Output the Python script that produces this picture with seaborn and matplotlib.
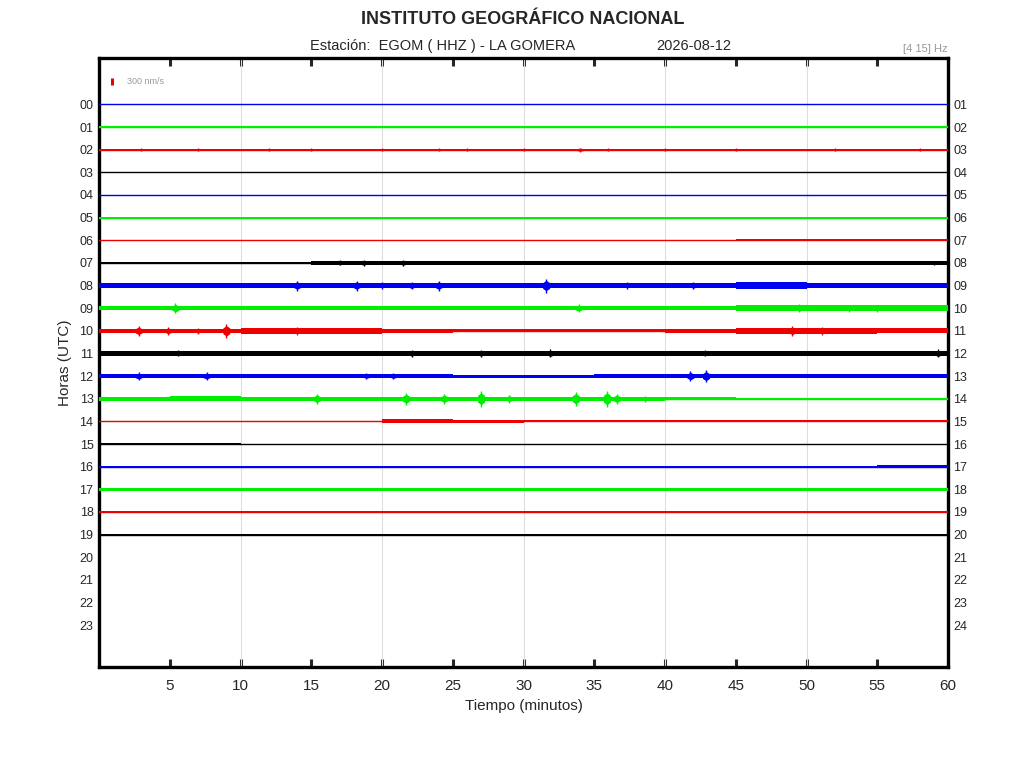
import numpy as np
import pandas as pd
import matplotlib
matplotlib.use("Agg")
import matplotlib.pyplot as plt
import seaborn as sns

# ---------------- data ----------------
hours = list(range(20))                      # traces drawn: 00 .. 19
left_labels = [f"{h:02d}" for h in range(24)]
right_labels = [f"{h:02d}" for h in range(1, 25)]
trace_colors = ["#0000f0", "#00ee00", "#ee0000", "#000000"]   # cycle blue, green, red, black

block_start = [0, 5, 10, 15, 20, 25, 30, 35, 40, 45, 50, 55]  # 5-minute blocks
# half-amplitude of the background noise per 5-minute block (nm/s)
noise_00 = [35, 35, 35, 35, 35, 35, 35, 35, 35, 35, 35, 35]
noise_01 = [40, 40, 40, 40, 40, 40, 40, 40, 40, 40, 40, 40]
noise_02 = [12, 12, 12, 12, 12, 12, 12, 12, 12, 12, 12, 12]
noise_03 = [20, 20, 20, 20, 20, 20, 20, 20, 20, 20, 20, 20]
noise_04 = [0, 0, 0, 0, 0, 0, 0, 0, 0, 0, 0, 0]
noise_05 = [40, 40, 40, 40, 40, 40, 40, 40, 40, 40, 40, 40]
noise_06 = [12, 12, 18, 18, 18, 18, 18, 18, 18, 35, 40, 40]
noise_07 = [55, 55, 55, 70, 90, 90, 85, 85, 90, 90, 90, 95]
noise_08 = [120, 115, 115, 120, 120, 115, 110, 115, 125, 130, 120, 120]
noise_09 = [85, 80, 85, 85, 90, 85, 85, 85, 90, 120, 125, 120]
noise_10 = [90, 90, 120, 120, 75, 70, 70, 70, 75, 120, 120, 115]
noise_11 = [100, 100, 95, 95, 95, 105, 105, 100, 90, 90, 90, 100]
noise_12 = [95, 90, 75, 75, 70, 65, 65, 75, 85, 75, 80, 85]
noise_13 = [85, 105, 85, 85, 90, 90, 85, 85, 75, 30, 25, 25]
noise_14 = [35, 35, 35, 35, 80, 75, 40, 40, 45, 45, 45, 40]
noise_15 = [25, 30, 20, 20, 20, 20, 20, 20, 20, 20, 20, 20]
noise_16 = [25, 30, 30, 35, 30, 35, 30, 30, 35, 40, 45, 70]
noise_17 = [55, 55, 55, 55, 55, 55, 55, 55, 70, 55, 55, 55]
noise_18 = [25, 25, 25, 25, 25, 25, 25, 25, 25, 25, 25, 25]
noise_19 = [10, 15, 15, 25, 25, 30, 30, 25, 20, 20, 20, 10]

# bursts / arrivals: (minute, half-amplitude nm/s)
events_02 = [(34.0, 90), (3, 55), (7, 55), (12, 55), (15, 55), (20, 55), (24, 55),
             (26, 55), (30, 55), (36, 55), (40, 55), (45, 55), (52, 55), (58, 55)]
events_07 = [(17.0, 110), (18.7, 130), (21.5, 130), (59.0, 100)]
events_08 = [(14.0, 215), (18.2, 215), (20.0, 130), (22.1, 170), (24.0, 215),
             (31.6, 300), (37.3, 130), (42.0, 150)]
events_09 = [(5.4, 215), (33.9, 170), (49.5, 170), (53.0, 150), (55.0, 150)]
events_10 = [(2.8, 215), (4.9, 170), (7.0, 130), (9.0, 300), (14.0, 170),
             (49.0, 215), (51.1, 170)]
events_11 = [(5.6, 130), (22.1, 150), (27.0, 150), (31.9, 170), (42.8, 130), (59.3, 170)]
events_12 = [(2.8, 170), (7.6, 170), (18.9, 130), (20.8, 130), (41.8, 215), (42.9, 260)]
events_13 = [(15.4, 215), (21.7, 260), (24.4, 215), (27.0, 345), (29.0, 170),
             (33.7, 300), (35.9, 345), (36.6, 215), (38.6, 130)]

noise = [noise_00, noise_01, noise_02, noise_03, noise_04, noise_05, noise_06,
         noise_07, noise_08, noise_09, noise_10, noise_11, noise_12, noise_13,
         noise_14, noise_15, noise_16, noise_17, noise_18, noise_19]
events = {2: events_02, 7: events_07, 8: events_08, 9: events_09, 10: events_10,
          11: events_11, 12: events_12, 13: events_13}

scale_nms = 300            # scale bar value
nm_per_row = 970.0         # nm/s per trace spacing

# ---------------- figure ----------------
sns.set_style("white")
plt.rcParams["font.family"] = ["Liberation Sans", "DejaVu Sans"]

fig = plt.figure(figsize=(10.24, 7.68), dpi=100)
ax = fig.add_axes([99 / 1024, 1 - 667 / 768, (948 - 99) / 1024, (667 - 58) / 768])

palette = {h: trace_colors[h % 4] for h in hours}
base_df = pd.DataFrame({
    "minuto": [0, 60] * len(hours),
    "fila": [h for h in hours for _ in range(2)],
    "hora": [h for h in hours for _ in range(2)],
})
sns.lineplot(data=base_df, x="minuto", y="fila", hue="hora", palette=palette,
             estimator=None, legend=False, linewidth=1.0, ax=ax, zorder=3)

edges = block_start + [60]
for h in hours:
    col = trace_colors[h % 4]
    amp = np.array(noise[h] + [noise[h][-1]]) / nm_per_row
    ax.fill_between(edges, h - amp, h + amp, step="post", color=col,
                    linewidth=0, zorder=3)
    for (m, a) in events.get(h, []):
        r = a / nm_per_row
        ax.fill_between([m - 0.25, m, m + 0.25], [h - 0.4 * r, h - 0.75 * r, h - 0.4 * r],
                        [h + 0.4 * r, h + 0.75 * r, h + 0.4 * r], color=col, linewidth=0, zorder=3)
        ax.vlines(m, h - r, h + r, color=col, linewidth=1.0, zorder=3)

# scale bar
half = scale_nms / nm_per_row / 2
ax.vlines(0.95, -1 - half, -1 + half, color="#e60000", linewidth=2.2, zorder=4)
ax.text(1.95, -1, f"{scale_nms} nm/s", fontsize=6.5, color="#999999", va="center", ha="left")

ax.set_xlim(0, 60)
ax.set_ylim(24.85, -2.05)
ax.set_xticks(range(5, 61, 5))
ax.set_xticklabels([str(v) for v in range(5, 61, 5)], fontsize=11)
ax.set_yticks(range(24))
ax.set_yticklabels(left_labels, fontsize=9)
ax.tick_params(axis="x", direction="in", length=6, width=2.2, top=True, bottom=True, pad=9)
ax.tick_params(axis="y", length=0, pad=4)
for v in range(10, 60, 10):
    ax.axvline(v, color="#dddddd", linewidth=0.8, zorder=1)
for s in ax.spines.values():
    s.set_linewidth(2.4)
    s.set_color("black")

ax2 = ax.twinx()
ax2.set_ylim(24.85, -2.05)
ax2.set_yticks(range(24))
ax2.set_yticklabels(right_labels, fontsize=9)
ax2.tick_params(axis="y", length=0, pad=4)
for s in ax2.spines.values():
    s.set_visible(False)

ax.set_xlabel("Tiempo (minutos)", fontsize=11, labelpad=4)
ax.set_ylabel("Horas (UTC)", fontsize=11, labelpad=5)

fig.text(523 / 1024, 1 - 19 / 768, "INSTITUTO GEOGRÁFICO NACIONAL", fontsize=13,
         fontweight="bold", ha="center", va="center")
fig.text(310 / 1024, 1 - 46 / 768, "Estación:  EGOM ( HHZ ) - LA GOMERA", fontsize=10.5,
         ha="left", va="center")
fig.text(656 / 1024, 1 - 46 / 768, "2026-08-12", fontsize=10.5, ha="left", va="center")
fig.text(948 / 1024, 1 - 49 / 768, "[4 15] Hz", fontsize=8, color="#999999",
         ha="right", va="center")

fig.savefig("out.png", dpi=100)
